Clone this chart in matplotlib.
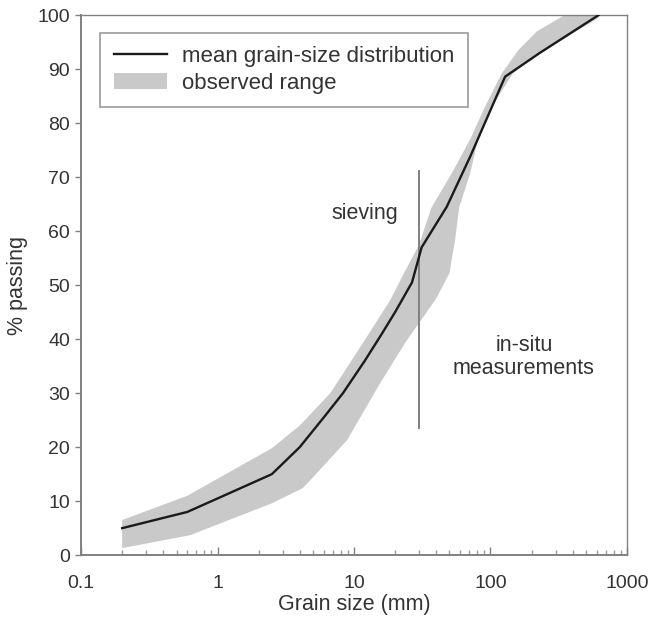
import matplotlib
matplotlib.use("Agg")
import matplotlib.pyplot as plt
from matplotlib.ticker import LogLocator, NullFormatter
from matplotlib.patches import Patch
from matplotlib.lines import Line2D

plt.rcParams['font.family'] = ['Liberation Sans', 'DejaVu Sans']

# mean grain-size distribution
mean_x = [0.2, 0.6, 1.0, 2.5, 4.0, 6.0, 8.3, 12, 16, 20, 26.6, 31.3, 47.8, 71, 128, 230, 620]
mean_y = [5.0, 8.0, 10.5, 15.0, 20.0, 25.5, 30.0, 36.0, 41.0, 45.0, 50.5, 57.0, 64.5, 73.8, 88.6, 93.0, 100.0]

# observed range (upper and lower envelopes)
upper_x = [0.2, 0.6, 2.5, 4.0, 6.7, 11.1, 18.4, 23, 30, 37, 52, 71, 91, 121, 160, 219, 350, 620]
upper_y = [6.5, 11.0, 19.8, 24.0, 30.0, 38.5, 47.2, 52.0, 57.5, 64.4, 70.7, 77.0, 83.0, 89.2, 93.5, 97.0, 100.0, 100.5]
lower_x = [0.2, 0.63, 2.5, 4.2, 5.0, 8.9, 15.5, 24.4, 30, 40, 50, 55, 59, 71, 81, 102, 146, 200, 620]
lower_y = [1.3, 3.7, 9.6, 12.4, 14.4, 21.3, 31.8, 39.8, 43.0, 47.5, 52.2, 58.3, 64.4, 70.7, 76.9, 83.0, 89.2, 92.0, 99.5]

# method boundary
boundary_x = 30
boundary_y = [23.5, 71.2]

x_ticks = [0.1, 1, 10, 100, 1000]
x_tick_labels = ['0.1', '1', '10', '100', '1000']
y_ticks = [0, 10, 20, 30, 40, 50, 60, 70, 80, 90, 100]

text_col = '#333333'
spine_col = '#808080'
band_col = '#c9c9c9'

fig = plt.figure(figsize=(6.49, 6.28), dpi=100)
ax = fig.add_axes([0.125, 0.116, 0.841, 0.860])

poly_x = upper_x + lower_x[::-1]
poly_y = upper_y + lower_y[::-1]
ax.fill(poly_x, poly_y, color=band_col, lw=0, zorder=1)
ax.plot(mean_x, mean_y, color='#1a1a1a', lw=1.7, zorder=3)
ax.plot([boundary_x, boundary_x], boundary_y, color='#808080', lw=1.4, zorder=2)

ax.set_xscale('log')
ax.set_xlim(0.1, 1000)
ax.set_ylim(0, 100)

ax.set_xticks(x_ticks)
ax.set_xticklabels(x_tick_labels)
ax.xaxis.set_minor_locator(LogLocator(base=10, subs=range(2, 10)))
ax.xaxis.set_minor_formatter(NullFormatter())
ax.set_yticks(y_ticks)

ax.tick_params(axis='x', which='major', direction='in', length=6, width=1.0,
               color=spine_col, labelsize=14, labelcolor=text_col, pad=14)
ax.tick_params(axis='x', which='minor', direction='in', length=3.5, width=1.0,
               color='#9a9a9a')
ax.tick_params(axis='y', which='major', direction='out', length=4, width=1.0,
               color=spine_col, labelsize=14, labelcolor=text_col, pad=4)

for s in ax.spines.values():
    s.set_color(spine_col)
    s.set_linewidth(1.0)
ax.spines['left'].set_linewidth(1.4)
ax.spines['bottom'].set_linewidth(1.4)

ax.set_xlabel('Grain size (mm)', fontsize=15.5, color=text_col, labelpad=2)
ax.set_ylabel('% passing', fontsize=15.5, color=text_col, labelpad=7)

ax.text(12, 63.3, 'sieving', fontsize=15.5, color=text_col, ha='center', va='center')
ax.text(176, 36.7, 'in-situ\nmeasurements', fontsize=15.5, color=text_col,
        ha='center', va='center', linespacing=1.1)

handles = [Line2D([], [], color='#1a1a1a', lw=1.7),
           Patch(facecolor=band_col, edgecolor='none')]
leg = ax.legend(handles, ['mean grain-size distribution', 'observed range'],
                loc='upper left', bbox_to_anchor=(0.035, 0.967), borderaxespad=0,
                fontsize=16, frameon=True, fancybox=False, handlelength=2.4,
                handletextpad=0.7, labelspacing=0.25, borderpad=0.6)
leg.get_frame().set_edgecolor(spine_col)
leg.get_frame().set_linewidth(1.2)
for t in leg.get_texts():
    t.set_color(text_col)

fig.savefig('out.png', dpi=100)
